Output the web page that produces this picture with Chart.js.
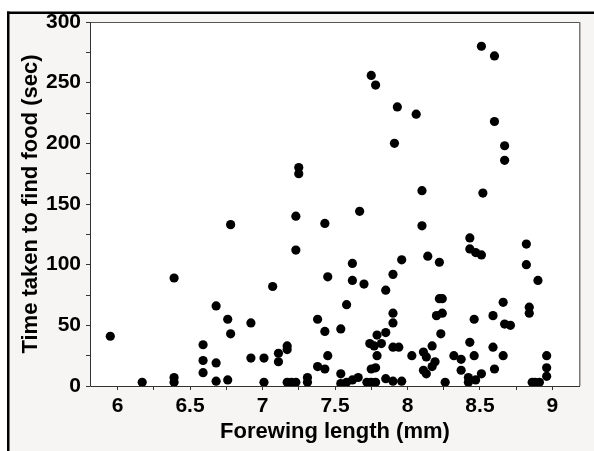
<!DOCTYPE html>
<html>
<head>
<meta charset="utf-8">
<script src="https://cdn.jsdelivr.net/npm/chart.js@4/dist/chart.umd.min.js"></script>
<style>
html,body{margin:0;padding:0;background:#ffffff;}
#wrap{position:relative;width:594px;height:451px;}
canvas{display:block;}
</style>
</head>
<body>
<div id="wrap"><canvas id="c" width="594" height="451"></canvas></div>
<script>
// Forewing length (mm)
const forewingLength = [
  5.95, 6.17, 6.39, 6.39, 6.39, 6.59, 6.59, 6.59, 6.68, 6.68, 6.68, 6.76, 6.76, 6.78, 6.78,
  6.92, 6.92, 7.01, 7.01, 7.07, 7.11, 7.11, 7.17, 7.17, 7.17, 7.20, 7.23, 7.23, 7.23, 7.25, 7.25,
  7.31, 7.31, 7.38, 7.38, 7.43, 7.43, 7.43, 7.45, 7.45, 7.54, 7.54, 7.54, 7.58, 7.62, 7.66,
  7.58, 7.62, 7.62, 7.67, 7.70, 7.72, 7.75, 7.78, 7.74, 7.77, 7.82, 7.79, 7.75, 7.78,
  7.79, 7.75, 7.78, 7.85, 7.85, 7.85, 7.90, 7.91, 7.90, 7.90, 7.90, 7.94, 7.90, 7.96,
  7.93, 7.96, 8.03, 8.06, 8.10, 8.10, 8.11, 8.13, 8.11, 8.13, 8.14, 8.17, 8.17, 8.19,
  8.20, 8.24, 8.22, 8.22, 8.24, 8.23, 8.26, 8.32, 8.37, 8.37, 8.43, 8.43, 8.47, 8.51,
  8.43, 8.46, 8.46, 8.42, 8.42, 8.47, 8.51, 8.52, 8.51, 8.59, 8.59, 8.60, 8.60, 8.60,
  8.67, 8.67, 8.66, 8.67, 8.71, 8.66, 8.82, 8.82, 8.84, 8.84, 8.90, 8.86, 8.88, 8.91,
  8.96, 8.96, 8.96
];
// Time taken to find food (sec)
const timeToFood = [
  41, 3, 89, 7, 3, 34, 21, 11, 66, 19, 4, 55, 5, 133, 43,
  52, 23, 23, 3, 82, 27, 20, 33, 30, 3, 3, 140, 112, 3, 180, 175,
  7, 3, 55, 16, 134, 45, 14, 90, 25, 47, 10, 2, 3, 5, 7,
  67, 101, 87, 144, 84, 3, 3, 3, 35, 33, 35, 42, 256, 248,
  25, 14, 15, 79, 44, 6, 92, 200, 60, 52, 32, 32, 4, 4,
  230, 104, 25, 224, 161, 132, 28, 24, 13, 10, 107, 33, 16, 20,
  58, 60, 102, 72, 72, 43, 3, 25, 22, 13, 122, 113, 110, 108,
  36, 55, 25, 7, 3, 5, 10, 159, 280, 58, 32, 14, 272, 218,
  198, 186, 69, 51, 50, 25, 117, 100, 65, 60, 87, 3, 3, 3,
  25, 15, 8
];
const xTickValues = [6, 6.25, 6.5, 6.75, 7, 7.25, 7.5, 7.75, 8, 8.25, 8.5, 8.75, 9];
const xTickLabels = ["6", "", "6.5", "", "7", "", "7.5", "", "8", "", "8.5", "", "9"];
const yTickValues = [0, 25, 50, 75, 100, 125, 150, 175, 200, 225, 250, 275, 300];
const yTickLabels = ["0", "", "50", "", "100", "", "150", "", "200", "", "250", "", "300"];

const points = forewingLength.map((x, i) => ({x: x, y: timeToFood[i]}));

const FONT = "'Liberation Sans', Arial, Helvetica, sans-serif";

const framePlugin = {
  id: 'frame',
  beforeDraw(chart) {
    const ctx = chart.ctx;
    const a = chart.chartArea;
    ctx.save();
    ctx.fillStyle = '#ffffff';
    ctx.fillRect(0, 0, 594, 451);
    ctx.fillStyle = '#f6f5f3';
    ctx.fillRect(8, 12.5, 594, 451);
    ctx.fillStyle = '#000000';
    ctx.fillRect(7, 11.5, 594, 2.5);
    ctx.fillRect(7, 11.5, 2.5, 451);
    ctx.fillStyle = '#ffffff';
    ctx.fillRect(a.left, a.top, a.right - a.left, a.bottom - a.top);
    ctx.restore();
  },
  afterDatasetsDraw(chart) {
    const ctx = chart.ctx;
    const a = chart.chartArea;
    ctx.save();
    ctx.lineWidth = 1;
    ctx.strokeStyle = '#555555';
    ctx.beginPath();
    ctx.moveTo(a.left, a.top + 0.5);
    ctx.lineTo(a.right, a.top + 0.5);
    ctx.stroke();
    ctx.strokeStyle = '#7a7a7a';
    ctx.lineWidth = 1.5;
    ctx.beginPath();
    ctx.moveTo(a.right - 0.25, a.top);
    ctx.lineTo(a.right - 0.25, a.bottom);
    ctx.stroke();
    ctx.strokeStyle = '#333333';
    ctx.lineWidth = 1;
    ctx.beginPath();
    ctx.moveTo(a.left + 0.5, a.top);
    ctx.lineTo(a.left + 0.5, a.bottom + 0.5);
    ctx.lineTo(a.right, a.bottom + 0.5);
    ctx.stroke();
    ctx.restore();
  }
};

new Chart(document.getElementById('c'), {
  type: 'scatter',
  data: {
    datasets: [{
      data: points,
      backgroundColor: '#000000',
      borderWidth: 0,
      pointRadius: 4.6,
      pointHoverRadius: 4.6
    }]
  },
  options: {
    responsive: false,
    animation: false,
    events: [],
    layout: { padding: { left: 0, right: 14, top: 22, bottom: 0 } },
    plugins: { legend: { display: false }, tooltip: { enabled: false } },
    scales: {
      x: {
        type: 'linear',
        min: 5.81,
        max: 9.19,
        afterBuildTicks: (s) => { s.ticks = xTickValues.map(v => ({value: v})); },
        afterFit: (s) => { s.height = 65; },
        grid: { display: true, drawOnChartArea: false, drawTicks: true, tickLength: 4, color: '#333333', lineWidth: 1 },
        border: { display: false },
        ticks: {
          autoSkip: false, maxRotation: 0, padding: 4, color: '#000000',
          font: { family: FONT, size: 21, weight: 'bold' },
          callback: (v) => { const i = xTickValues.indexOf(v); return i >= 0 ? xTickLabels[i] : ''; }
        },
        title: {
          display: true, text: 'Forewing length (mm)', color: '#000000',
          font: { family: FONT, size: 22, weight: 'bold' },
          padding: { top: 0, bottom: 6 }
        }
      },
      y: {
        type: 'linear',
        min: 0,
        max: 300,
        afterBuildTicks: (s) => { s.ticks = yTickValues.map(v => ({value: v})); },
        afterFit: (s) => { s.width = 90; },
        grid: { display: true, drawOnChartArea: false, drawTicks: true, tickLength: 4, color: '#333333', lineWidth: 1 },
        border: { display: false },
        ticks: {
          autoSkip: false, padding: 5, color: '#000000',
          font: { family: FONT, size: 21, weight: 'bold' },
          callback: (v) => { const i = yTickValues.indexOf(v); return i >= 0 ? yTickLabels[i] : ''; }
        },
        title: {
          display: true, text: 'Time taken to find food (sec)', color: '#000000',
          font: { family: FONT, size: 22, weight: 'bold' },
          padding: { top: 18, bottom: 0 }
        }
      }
    }
  },
  plugins: [framePlugin]
});
</script>
</body>
</html>
